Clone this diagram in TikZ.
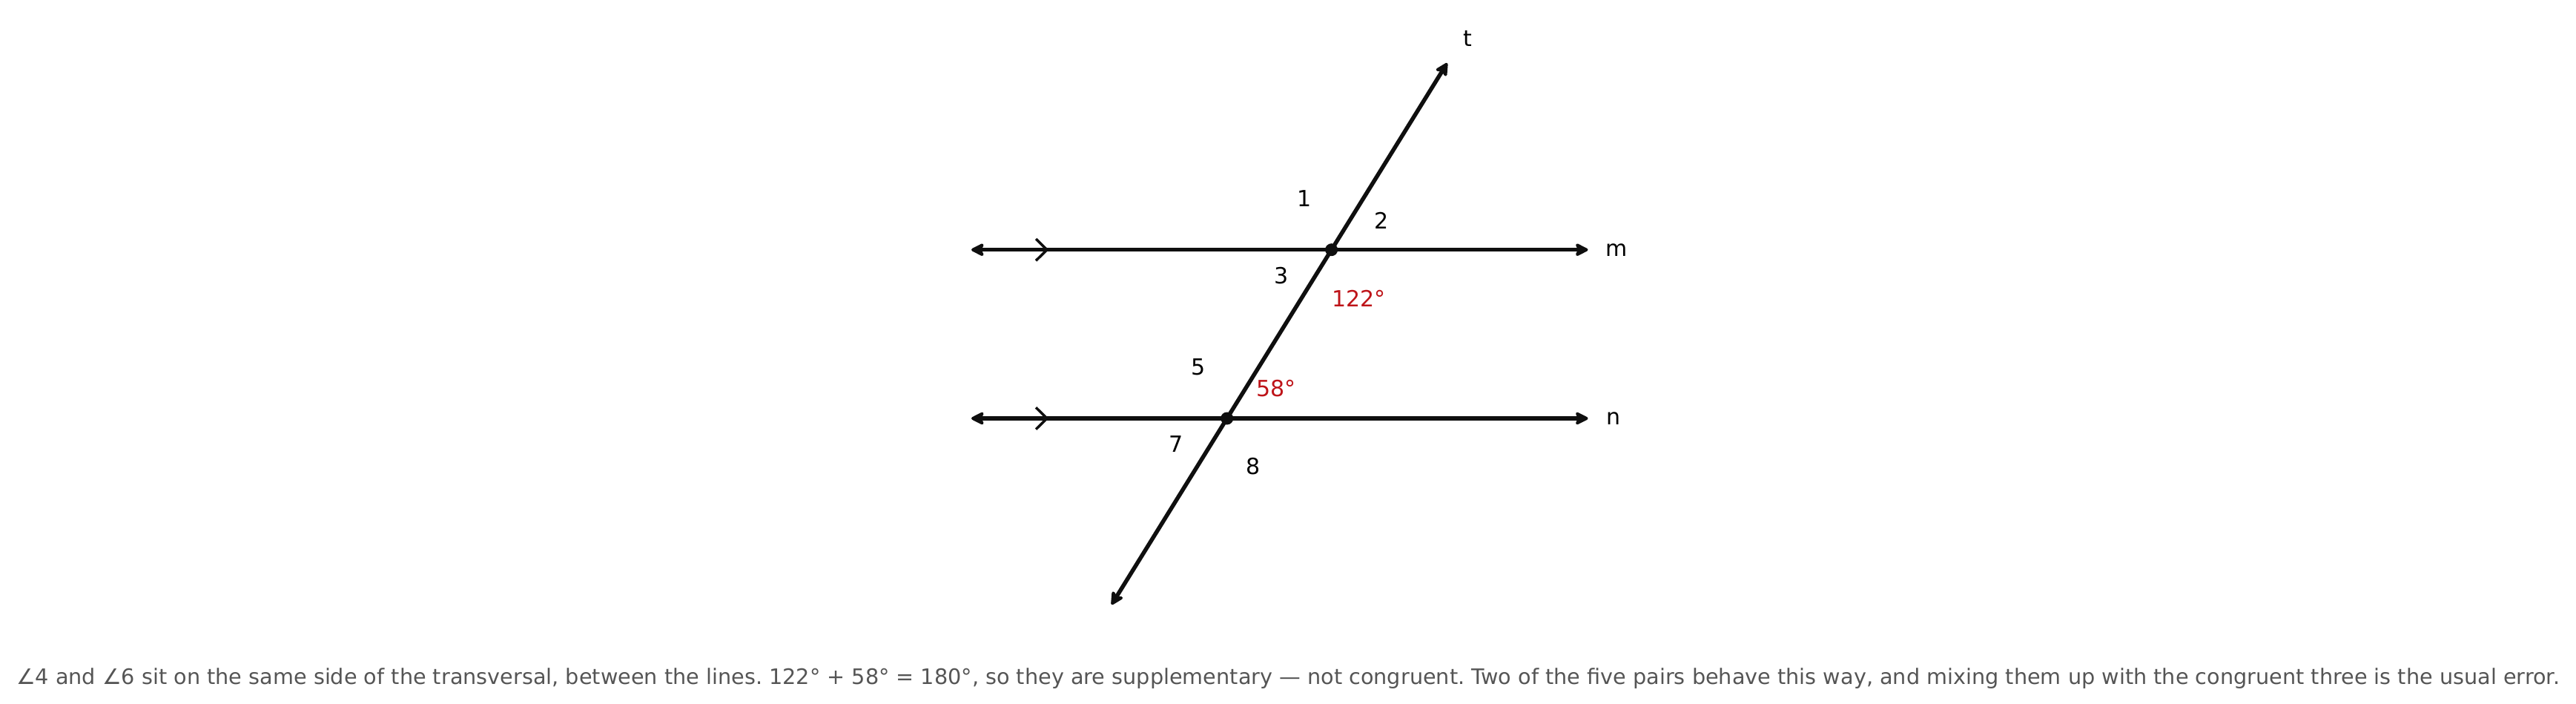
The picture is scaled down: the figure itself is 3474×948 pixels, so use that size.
\documentclass[tikz,border=0pt]{standalone}
\usepackage{fontspec}
\setmainfont{DejaVu Sans}
\usetikzlibrary{arrows.meta}
\definecolor{angred}{RGB}{190,20,25}
\definecolor{capgray}{RGB}{85,85,85}
\definecolor{ink}{RGB}{15,15,15}
\frenchspacing
\begin{document}
\begin{tikzpicture}[x=1pt,y=-1pt,
  tipsty/.tip={Stealth[length=21pt,width=21pt,inset=5pt,round]},
  lineseg/.style={line width=5.5pt,draw=ink,tipsty-tipsty},
  chev/.style={line width=3.5pt,draw=ink},
  lbl/.style={inner sep=0pt,font=\fontsize{30}{36}\selectfont},
  deg/.style={inner sep=1.5pt,fill=white,text=angred,font=\fontsize{30}{36}\selectfont},
  dotpt/.style={circle,fill=ink,inner sep=0pt,minimum size=17pt}]
\useasboundingbox (0,0) rectangle (3474,948);
% coordinates
\coordinate (mL) at (1310,336.7);
\coordinate (mR) at (2141.5,336.7);
\coordinate (nL) at (1310,564);
\coordinate (nR) at (2141.5,564);
\coordinate (T) at (1951.7,85);
\coordinate (B) at (1499.1,815);
% lines
\draw[lineseg] (mL) -- (mR);
\draw[lineseg] (nL) -- (nR);
\draw[lineseg] (B) -- (T);
% parallel marks
\coordinate (c1a) at (1397,322);
\coordinate (c1b) at (1412,336.7);
\coordinate (c1c) at (1397,351.4);
\coordinate (c2a) at (1397,549.3);
\coordinate (c2b) at (1412,564);
\coordinate (c2c) at (1397,578.7);
\draw[chev] (c1a) -- (c1b) -- (c1c);
\draw[chev] (c2a) -- (c2b) -- (c2c);
% intersection points
\node[dotpt] (P) at (1795.6,336.7) {};
\node[dotpt] (Q) at (1654.7,564) {};
% line names
\node[lbl] (lt) at (1979,51.5) {t};
\node[lbl,anchor=west] (lm) at (2165,336.7) {m};
\node[lbl,anchor=west] (ln) at (2166,564) {n};
% angle numbers
\node[lbl] (a1) at (1759.5,267.5) {1};
\node[lbl] (a2) at (1862.7,297) {2};
\node[lbl] (a3) at (1728.4,371.5) {3};
\node[lbl] (a5) at (1616,495) {5};
\node[lbl] (a7) at (1586.5,599) {7};
\node[lbl] (a8) at (1690.5,628.5) {8};
% degree labels
\node[deg] (d122) at (1832.7,402) {122°};
\node[deg] (d58) at (1721,523.5) {58°};
% caption
\node[anchor=base,inner sep=0pt,text=capgray,font=\fontsize{28.7}{34}\selectfont] (cap) at (1737,922)
 {∠4 and ∠6 sit on the same side of the transversal, between the lines. 122° + 58° = 180°, so they are supplementary — not congruent. Two of the five pairs behave this way, and mixing them up with the congruent three is the usual error.};
\end{tikzpicture}
\end{document}
